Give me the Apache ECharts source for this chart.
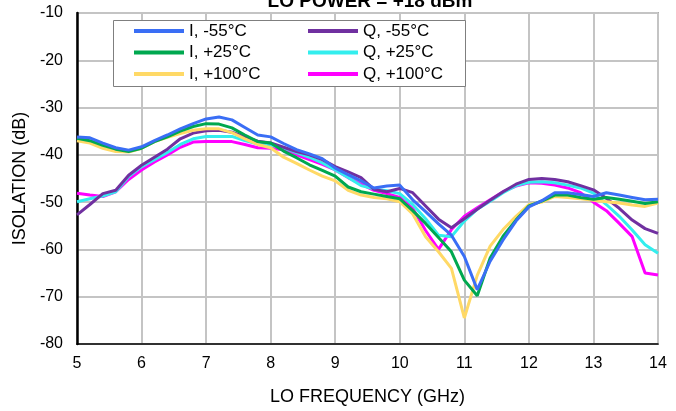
<!DOCTYPE html>
<html><head><meta charset="utf-8">
<script src="https://cdn.jsdelivr.net/npm/echarts@6/dist/echarts.min.js"></script>
<style>html,body{margin:0;padding:0;background:#fff}#c{width:676px;height:411px}</style>
</head><body><div id="c"></div>
<script>
var freq = [5.0,5.2,5.4,5.6,5.8,6.0,6.2,6.4,6.6,6.8,7.0,7.2,7.4,7.6,7.8,8.0,8.2,8.4,8.6,8.8,9.0,9.2,9.4,9.6,9.8,10.0,10.2,10.4,10.6,10.8,11.0,11.2,11.4,11.6,11.8,12.0,12.2,12.4,12.6,12.8,13.0,13.2,13.4,13.6,13.8,14.0];
var iM55 = [-36.2,-36.4,-37.5,-38.5,-39.0,-38.3,-37.0,-35.8,-34.5,-33.4,-32.4,-32.0,-32.6,-34.2,-35.8,-36.2,-37.6,-38.9,-39.8,-40.8,-42.8,-44.2,-45.5,-47.0,-46.6,-46.4,-49.5,-52.0,-54.6,-57.0,-61.5,-68.5,-62.5,-58.0,-54.0,-51.0,-49.7,-48.0,-48.0,-48.4,-48.8,-48.0,-48.5,-49.0,-49.5,-49.4];
var i25 = [-36.5,-37.0,-38.0,-38.8,-39.3,-38.6,-37.2,-36.2,-35.0,-34.0,-33.4,-33.5,-34.3,-35.8,-37.2,-37.5,-39.2,-40.6,-42.1,-43.3,-44.5,-46.8,-47.8,-48.3,-48.8,-49.3,-51.8,-54.5,-57.5,-60.5,-66.5,-69.8,-61.8,-57.2,-53.8,-50.8,-49.8,-48.5,-48.5,-49.0,-49.4,-49.0,-49.4,-49.8,-50.3,-49.9];
var i100 = [-37.0,-37.5,-38.6,-39.3,-39.4,-38.6,-37.2,-36.3,-35.5,-34.8,-34.5,-34.5,-35.3,-36.6,-37.8,-38.5,-40.5,-41.8,-43.2,-44.5,-45.5,-47.5,-48.5,-49.0,-49.3,-49.9,-52.5,-57.3,-60.5,-64.0,-74.5,-65.5,-59.3,-55.8,-53.0,-50.5,-50.0,-48.8,-49.0,-49.3,-49.6,-49.9,-50.2,-50.6,-50.9,-50.2];
var qM55 = [-52.7,-50.5,-48.2,-47.5,-44.3,-42.2,-40.5,-38.8,-36.6,-35.4,-34.9,-34.8,-35.2,-36.2,-37.1,-37.5,-38.4,-39.3,-40.0,-41.0,-42.5,-43.6,-44.8,-47.3,-47.8,-47.1,-48.0,-50.8,-53.6,-55.4,-53.5,-51.5,-49.6,-47.8,-46.2,-45.2,-45.0,-45.2,-45.7,-46.5,-47.4,-49.2,-51.3,-53.8,-55.6,-56.6];
var q25 = [-49.9,-49.3,-48.7,-47.8,-44.6,-42.5,-41.0,-39.5,-37.8,-36.6,-36.1,-36.1,-36.1,-37.0,-37.7,-37.9,-38.5,-39.5,-40.5,-41.7,-43.2,-44.8,-46.5,-47.2,-47.6,-48.2,-50.5,-53.5,-57.0,-57.3,-54.0,-51.5,-49.8,-48.0,-46.5,-45.8,-45.7,-45.9,-46.4,-47.0,-48.1,-50.5,-53.0,-55.9,-59.0,-60.8];
var q100 = [-48.1,-48.5,-48.8,-47.8,-45.2,-43.2,-41.5,-40.0,-38.4,-37.3,-37.2,-37.2,-37.2,-37.8,-38.5,-38.6,-38.9,-40.0,-41.0,-42.0,-43.2,-44.8,-46.2,-47.5,-48.2,-49.0,-51.3,-56.0,-60.0,-55.8,-53.0,-51.2,-49.5,-47.8,-46.6,-45.9,-46.0,-46.4,-47.0,-48.0,-50.0,-51.8,-54.5,-57.3,-65.0,-65.4];
var names = ['I, -55°C','I, +25°C','I, +100°C','Q, -55°C','Q, +25°C','Q, +100°C'];
var colors = ['#3A6EF5','#00A84F','#FFD966','#7030A0','#33EEEE','#FF00FF'];
var allData = [iM55, i25, i100, qM55, q25, q100];

var font = 'Liberation Sans, Arial, sans-serif';
var series = allData.map(function(d, k){
  return {
    name: names[k], type: 'line', showSymbol: false, symbol: 'none',
    data: freq.map(function(f, j){ return [f, d[j]]; }),
    lineStyle: {width: 3, color: colors[k]}, itemStyle: {color: colors[k]},
    z: 10 - k
  };
});
var legendCommon = {
  orient: 'vertical', icon: 'rect', itemWidth: 50, itemHeight: 4, itemGap: 1.5, padding: 0,
  textStyle: {fontFamily: font, fontSize: 17, color: '#000', lineHeight: 20},
  selectedMode: false
};
var chart = echarts.init(document.getElementById('c'), null, {renderer: 'canvas'});
chart.setOption({
  animation: false,
  backgroundColor: '#fff',
  title: {text: 'LO POWER = +18 dBm', left: 365, textAlign: 'center', top: -13,
    textStyle: {fontFamily: font, fontSize: 19, fontWeight: 'bold', color: '#000'}},
  grid: {left: 77, right: 18, top: 13, bottom: 66, show: true, borderColor: '#6f6f6f', borderWidth: 1.5},
  graphic: [{type: 'rect', left: 113, top: 20, shape: {width: 352, height: 66},
    style: {fill: '#fff', stroke: '#7f7f7f', lineWidth: 1}, z: 50}],
  legend: [
    Object.assign({left: 134, top: 21, data: names.slice(0,3), z: 60}, legendCommon),
    Object.assign({left: 308, top: 21, data: names.slice(3,6), z: 60}, legendCommon)
  ],
  xAxis: {type: 'value', min: 5, max: 14, interval: 1,
    name: 'LO FREQUENCY (GHz)', nameLocation: 'middle', nameGap: 44,
    nameTextStyle: {fontFamily: font, fontSize: 18, color: '#000'},
    axisLine: {onZero: false, lineStyle: {color: '#000', width: 1.5}},
    axisTick: {show: false},
    axisLabel: {fontFamily: font, fontSize: 16, color: '#000', margin: 12},
    splitLine: {lineStyle: {color: '#c4c4c4', width: 2}}},
  yAxis: {type: 'value', min: -80, max: -10, interval: 10,
    name: 'ISOLATION (dB)', nameLocation: 'middle', nameGap: 47, nameRotate: 90,
    nameTextStyle: {fontFamily: font, fontSize: 18, color: '#000'},
    axisLine: {show: true, lineStyle: {color: '#000', width: 2.5}},
    axisTick: {show: false},
    axisLabel: {fontFamily: font, fontSize: 16, color: '#000', margin: 14},
    splitLine: {lineStyle: {color: '#c4c4c4', width: 2}}},
  series: series
});
</script></body></html>
